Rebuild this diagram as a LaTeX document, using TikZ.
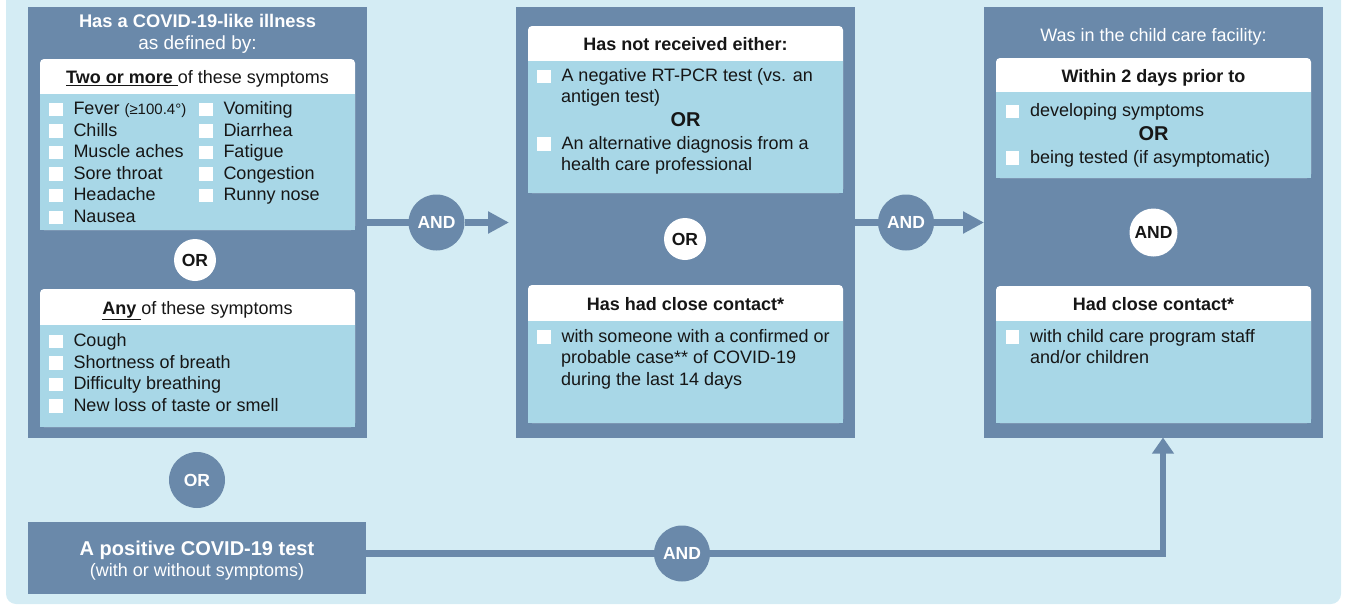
\documentclass[tikz,border=0pt]{standalone}
\usepackage{fontspec}
\setmainfont{Liberation Sans}
\usetikzlibrary{positioning, arrows.meta}

\definecolor{bgBlue}{HTML}{D4ECF4}
\definecolor{slate}{HTML}{6A89AA}
\definecolor{paleBlue}{HTML}{A8D7E7}
\definecolor{ink}{HTML}{161616}

\newcommand{\chkbox}{{\color{white}\rule[-1.5pt]{13.5pt}{13.5pt}}\hspace{11pt}}

\begin{document}
\begin{tikzpicture}[
        x=1pt, y=-1pt,
        every node/.style={inner sep=0pt, outer sep=0pt},
        colBox/.style={rectangle, fill=slate, minimum width=339pt, minimum height=430.5pt},
        card/.style={rectangle, fill=white, rounded corners=4pt, minimum width=315pt},
        cardBody/.style={rectangle, fill=paleBlue, minimum width=315pt, anchor=south},
        colTitle/.style={text=white, anchor=base, font=\bfseries\fontsize{18.3}{22}\selectfont},
        headText/.style={text=ink, anchor=base, font=\bfseries\fontsize{18}{22}\selectfont},
        itemText/.style={text=ink, anchor=base west, font=\fontsize{18}{22}\selectfont},
        orText/.style={text=ink, anchor=base, font=\bfseries\fontsize{20}{24}\selectfont},
        darkCircle/.style={circle, fill=slate, text=white, minimum size=56pt, font=\bfseries\fontsize{17.5}{20}\selectfont},
        whiteCircle/.style={circle, fill=white, text=ink, minimum size=42pt, font=\bfseries\fontsize{17.5}{20}\selectfont},
        link/.style={draw=slate, line width=6.5pt},
        arrowLink/.style={-{Triangle[length=21pt, width=21pt]}}
    ]
        \useasboundingbox (0,0) rectangle (1345,608);
        \fill[bgBlue, rounded corners=10pt] (6,-20) rectangle (1341,604);

        % Column 1: illness
        \node[colBox] (illness) at (197.5,222.25) {};
        \node[colTitle] (illnessTitle) at (197.5,27.3) {Has a COVID-19-like illness};
        \node[colTitle, font=\fontsize{19}{23}\selectfont] (illnessSub) at (197.5,49.3) {as defined by:};

        \node[card, minimum height=171pt] (twoCard) at (197.5,144.5) {};
        \node[cardBody, minimum height=136pt] (twoBody) at (twoCard.south) {};
        \node[headText, font=\fontsize{18}{22}\selectfont] (twoHead) at (197.5,83.3) {\underline{\textbf{Two or more }}of these symptoms};
        \foreach \sym [count=\i from 0] in {{Fever {\fontsize{15}{18}\selectfont(≥100.4°)}}, Chills, Muscle aches, Sore throat, Headache, Nausea}
            \node[itemText] (twoL\i) at (49,114.5+21.6*\i) {\chkbox\sym};
        \foreach \sym [count=\i from 0] in {Vomiting, Diarrhea, Fatigue, Congestion, Runny nose}
            \node[itemText] (twoR\i) at (199,114.5+21.6*\i) {\chkbox\sym};

        \node[whiteCircle] (orLeft) at (195,260) {OR};

        \node[card, minimum height=138pt] (anyCard) at (197.5,358) {};
        \node[cardBody, minimum height=102pt] (anyBody) at (anyCard.south) {};
        \node[headText, font=\fontsize{18}{22}\selectfont] (anyHead) at (197.5,314) {\underline{\textbf{Any }}of these symptoms};
        \foreach \sym [count=\i from 0] in {Cough, Shortness of breath, Difficulty breathing, New loss of taste or smell}
            \node[itemText] (any\i) at (49,346.5+21.6*\i) {\chkbox\sym};

        % Positive test
        \node[darkCircle] (orBottom) at (197,480) {OR};
        \node[colBox, minimum width=338pt, minimum height=72pt] (positive) at (197,558) {};
        \node[colTitle, font=\bfseries\fontsize{20}{24}\selectfont] (positiveTitle) at (197,555) {A positive COVID-19 test};
        \node[colTitle, font=\fontsize{18}{22}\selectfont] (positiveSub) at (197,576) {(with or without symptoms)};

        % Column 2: test / contact
        \node[colBox] (criteria) at (685.5,222.25) {};
        \node[card, minimum height=167pt] (notCard) at (685.5,109.5) {};
        \node[cardBody, minimum height=132pt] (notBody) at (notCard.south) {};
        \node[headText] (notHead) at (685.5,50) {Has not received either:};
        \node[itemText] (notA) at (537,81.7) {\chkbox A negative RT-PCR test (vs. an};
        \node[itemText] (notA2) at (561,102.7) {antigen test)};
        \node[orText] (notOr) at (685.5,126.7) {OR};
        \node[itemText] (notB) at (537,149.3) {\chkbox An alternative diagnosis from a};
        \node[itemText] (notB2) at (561,170.7) {health care professional};

        \node[whiteCircle] (orMid) at (685,239) {OR};

        \node[card, minimum height=138pt] (contactCard) at (685.5,354) {};
        \node[cardBody, minimum height=102pt] (contactBody) at (contactCard.south) {};
        \node[headText] (contactHead) at (685.5,310.7) {Has had close contact*};
        \node[itemText] (contactA) at (537,342.3) {\chkbox with someone with a confirmed or};
        \node[itemText] (contactA2) at (561,363.5) {probable case** of COVID-19};
        \node[itemText] (contactA3) at (561,385) {during the last 14 days};

        % Column 3: child care facility
        \node[colBox] (facility) at (1153.5,222.25) {};
        \node[colTitle, font=\fontsize{18}{22}\selectfont] (facilityTitle) at (1153.5,41.7) {Was in the child care facility:};
        \node[card, minimum height=120pt] (withinCard) at (1153.5,118) {};
        \node[cardBody, minimum height=86pt] (withinBody) at (withinCard.south) {};
        \node[headText] (withinHead) at (1153.5,82.3) {Within 2 days prior to};
        \node[itemText] (withinA) at (1005.5,116.7) {\chkbox developing symptoms};
        \node[orText] (withinOr) at (1153.5,140) {OR};
        \node[itemText] (withinB) at (1005.5,163.3) {\chkbox being tested (if asymptomatic)};

        \node[whiteCircle, minimum size=48pt] (andRight) at (1153.5,232.5) {AND};

        \node[card, minimum height=137pt] (hadCard) at (1153.5,354.5) {};
        \node[cardBody, minimum height=102pt] (hadBody) at (hadCard.south) {};
        \node[headText] (hadHead) at (1153.5,310.7) {Had close contact*};
        \node[itemText] (hadA) at (1005.5,342.3) {\chkbox with child care program staff};
        \node[itemText] (hadA2) at (1030,363.5) {and/or children};

        % AND connectors
        \node[darkCircle] (andOne) at (436.5,222.5) {AND};
        \node[darkCircle] (andTwo) at (906,222.5) {AND};
        \node[darkCircle] (andThree) at (682,553.5) {AND};
        \coordinate (criteriaIn) at ([xshift=-7pt]criteria.west |- andOne);
        \coordinate (facilityIn) at ([xshift=9.5pt]facility.south);

        \draw[link] (illness.east |- andOne) -- (andOne);
        \draw[link, arrowLink] (andOne) -- (criteriaIn);
        \draw[link] (criteria.east |- andTwo) -- (andTwo);
        \draw[link, arrowLink] (andTwo) -- (facility.west |- andTwo);
        \draw[link] (positive.east |- andThree) -- (andThree);
        \draw[link, -{Triangle[length=16pt, width=21pt]}] (andThree) -| (facilityIn);
    \end{tikzpicture}
\end{document}
